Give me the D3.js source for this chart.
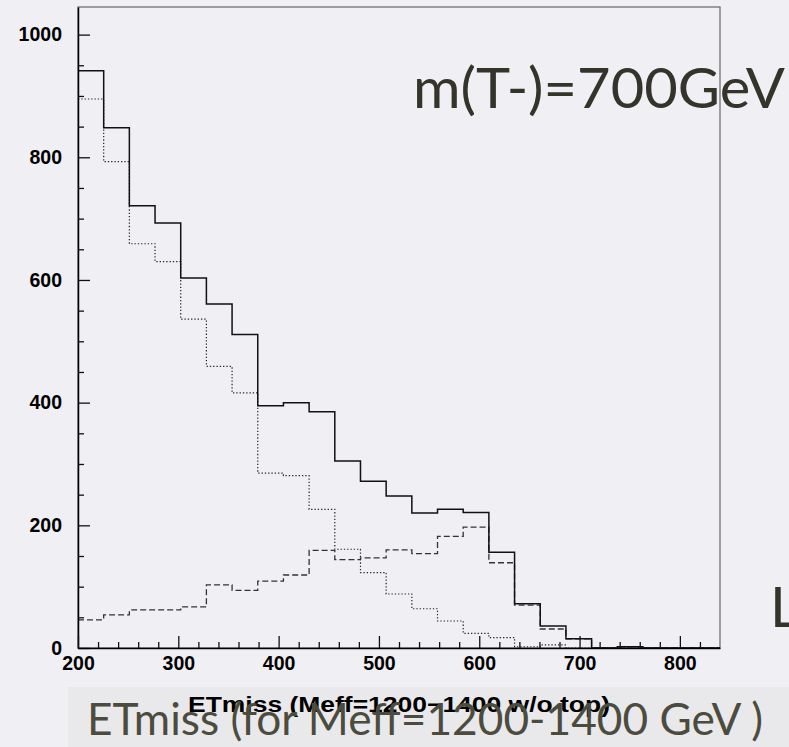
<!DOCTYPE html>
<html>
<head>
<meta charset="utf-8">
<script src="https://cdn.jsdelivr.net/npm/d3@7"></script>
<style>
  html, body { margin: 0; padding: 0; background: #f0eff4; }
  svg { display: block; }
</style>
</head>
<body>
<div id="chart"></div>
<script>
// ---- data ----
const binLow = [200, 225.6, 251.2, 276.8, 302.4, 328, 353.6, 379.2, 404.8, 430.4, 456, 481.6, 507.2,
                532.8, 558.4, 584, 609.6, 635.2, 660.8, 686.4, 712, 737.6, 763.2, 788.8, 814.4];
const xEnd = 840;
const totalCounts  = [941, 848, 721, 693, 603, 561, 511, 395, 400, 385, 305, 272, 248, 220, 226, 221, 156, 72, 36, 15, 0, 2, 0, 0, 0];
const dottedCounts = [895, 793, 659, 630, 536, 459, 416, 285, 281, 226, 161, 123, 88, 64, 44, 24, 17, 2, 5, 0, 0, 0, 0, 0, 0];
const dashedCounts = [46, 54, 62, 62, 67, 103, 94, 109, 119, 159, 144, 147, 160, 154, 182, 197, 139, 70, 31, 15, 0, 2, 0, 0, 0];
const xMajorTicks = [200, 300, 400, 500, 600, 700, 800];
const yMajorTicks = [0, 200, 400, 600, 800, 1000];
const xTitle = "ETmiss (Meff=1200\u22121400 w/o top)";
const slideTitle = "m(T-)=700GeV";
const slideCaption = "ETmiss (for Meff=1200-1400 GeV )";

// ---- layout ----
const W = 789, H = 747;
const svg = d3.select("#chart").append("svg").attr("width", W).attr("height", H);

svg.append("rect").attr("width", W).attr("height", H).attr("fill", "#f0eff4");

const x = d3.scaleLinear().domain([200, xEnd]).range([78, 720]);
const y = d3.scaleLinear().domain([0, 1045]).range([648, 7]);

// bottom caption band
svg.append("rect").attr("x", 68).attr("y", 687).attr("width", W - 68).attr("height", H - 687)
  .attr("fill", "#e9e9eb");

// frame (top/right grey)
svg.append("rect").attr("x", x(200)).attr("y", y(1045)).attr("width", x(xEnd) - x(200)).attr("height", y(0) - y(1045))
  .attr("fill", "none").attr("stroke", "#666").attr("stroke-width", 1.2);

// histogram step lines
function stepPts(vals) {
  const pts = vals.map((v, i) => [binLow[i], v]);
  pts.push([xEnd, vals[vals.length - 1]]);
  return pts;
}
const line = d3.line().x(d => x(d[0])).y(d => y(d[1])).curve(d3.curveStepAfter);

svg.append("path").datum(stepPts(dottedCounts)).attr("d", line)
  .attr("fill", "none").attr("stroke", "#222").attr("stroke-width", 1.2).attr("stroke-dasharray", "1.3,2");
svg.append("path").datum(stepPts(dashedCounts)).attr("d", line)
  .attr("fill", "none").attr("stroke", "#333").attr("stroke-width", 1.3).attr("stroke-dasharray", "6,3");
svg.append("path").datum(stepPts(totalCounts)).attr("d", line)
  .attr("fill", "none").attr("stroke", "#111").attr("stroke-width", 1.5);

// axes
const fontTick = "'Liberation Sans', Arial, sans-serif";
const gy = svg.append("g").attr("transform", `translate(${x(200)},0)`);
gy.call(d3.axisLeft(y).tickValues(yMajorTicks).tickSize(-12).tickPadding(16).tickSizeOuter(0).tickFormat(d3.format("d")));
const gyMinor = svg.append("g").attr("transform", `translate(${x(200)},0)`);
gyMinor.call(d3.axisLeft(y).tickValues(d3.range(50, 1001, 50).filter(v => v % 200 !== 0)).tickSize(-6).tickFormat(""));
gyMinor.select(".domain").remove();

const gx = svg.append("g").attr("transform", `translate(0,${y(0)})`);
gx.call(d3.axisBottom(x).tickValues(xMajorTicks).tickSize(-12).tickPadding(8).tickSizeOuter(0).tickFormat(d3.format("d")));
const gxMinor = svg.append("g").attr("transform", `translate(0,${y(0)})`);
gxMinor.call(d3.axisBottom(x).tickValues(d3.range(220, 840, 20).filter(v => v % 100 !== 0)).tickSize(-6).tickFormat(""));
gxMinor.select(".domain").remove();

svg.selectAll(".domain").attr("stroke", "#000").attr("stroke-width", 1.5);
svg.selectAll(".tick line").attr("stroke", "#111").attr("stroke-width", 1.3);
svg.selectAll(".tick text").attr("font-family", fontTick).attr("font-weight", "bold")
  .attr("font-size", 19.5).attr("fill", "#000");

// ROOT axis title
svg.append("text").attr("x", (x(200) + x(xEnd)) / 2).attr("y", 712)
  .attr("text-anchor", "middle").attr("font-family", fontTick).attr("font-weight", "bold")
  .attr("font-size", 22).attr("fill", "#000")
  .attr("textLength", 422).attr("lengthAdjust", "spacingAndGlyphs")
  .text(xTitle);

// slide overlay texts
const fontSlide = "Lato, 'Open Sans', sans-serif";
svg.append("text").attr("x", 413).attr("y", 108)
  .attr("font-family", fontSlide).attr("font-weight", 400).attr("font-size", 57).attr("fill", "#34342a")
  .attr("textLength", 372).attr("lengthAdjust", "spacingAndGlyphs")
  .text(slideTitle);
svg.append("text").attr("x", 770).attr("y", 627)
  .attr("font-family", fontSlide).attr("font-weight", 400).attr("font-size", 57).attr("fill", "#34342a")
  .text("L");
svg.append("text").attr("x", 87).attr("y", 735)
  .attr("font-family", fontSlide).attr("font-weight", 400).attr("font-size", 45).attr("fill", "#4c4c3e")
  .attr("textLength", 676).attr("lengthAdjust", "spacingAndGlyphs")
  .text(slideCaption);
</script>
</body>
</html>
